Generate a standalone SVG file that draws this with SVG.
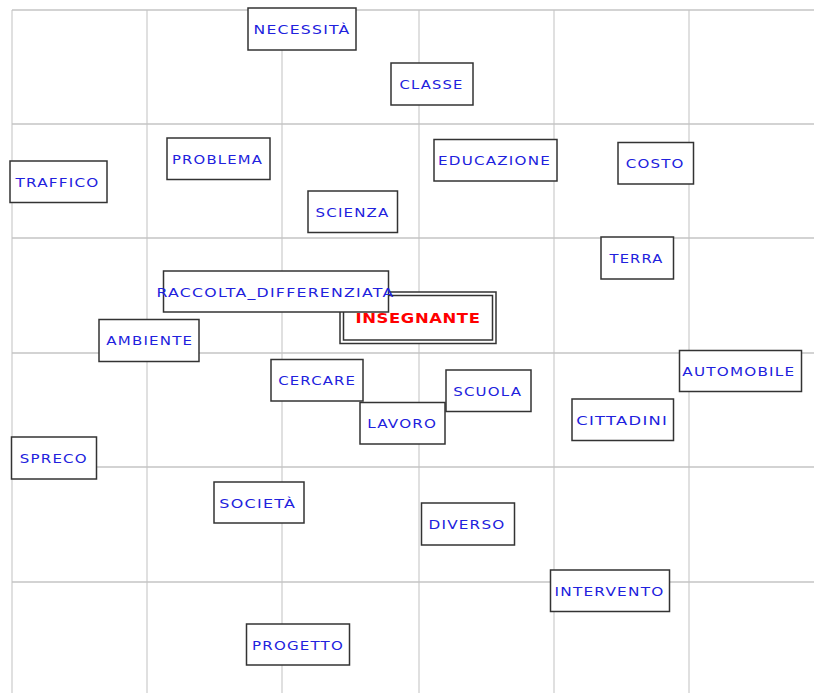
<svg xmlns="http://www.w3.org/2000/svg" width="814" height="693" viewBox="0 0 814 693">
<style>
.bg{fill:#ffffff}
.gh{stroke:#c4c4c4;stroke-width:1.5}
.gv{stroke:#d6d6d6;stroke-width:1.5}
.box{fill:#ffffff;stroke:#333333;stroke-width:1.5}
.lbl{font-family:"DejaVu Sans","Verdana",sans-serif;font-size:12.5px;letter-spacing:1px;fill:#2121dd;text-anchor:middle}
.main{font-family:"DejaVu Sans","Verdana",sans-serif;font-size:13.5px;letter-spacing:0.5px;font-weight:bold;fill:#ff0000;text-anchor:middle}
</style>
<rect class="bg" x="0" y="0" width="814" height="693"/>
<g id="grid">
<line class="gv" x1="12" y1="10" x2="12" y2="693"/>
<line class="gv" x1="147" y1="10" x2="147" y2="693"/>
<line class="gv" x1="282" y1="10" x2="282" y2="693"/>
<line class="gv" x1="419" y1="10" x2="419" y2="693"/>
<line class="gv" x1="554" y1="10" x2="554" y2="693"/>
<line class="gv" x1="689" y1="10" x2="689" y2="693"/>
<line class="gh" x1="12" y1="10" x2="814" y2="10"/>
<line class="gh" x1="12" y1="124" x2="814" y2="124"/>
<line class="gh" x1="12" y1="238" x2="814" y2="238"/>
<line class="gh" x1="12" y1="353" x2="814" y2="353"/>
<line class="gh" x1="12" y1="467" x2="814" y2="467"/>
<line class="gh" x1="12" y1="582" x2="814" y2="582"/>
</g>
<g id="connectors"></g>
<g id="n-necessita"><rect class="box" x="248" y="8" width="108" height="42"/><text class="lbl" x="302" y="33.5" textLength="97" lengthAdjust="spacingAndGlyphs">NECESSITÀ</text></g>
<g id="n-classe"><rect class="box" x="391" y="63" width="82" height="42"/><text class="lbl" x="431.5" y="88.5" textLength="64" lengthAdjust="spacingAndGlyphs">CLASSE</text></g>
<g id="n-problema"><rect class="box" x="167" y="138" width="103" height="41.5"/><text class="lbl" x="217.5" y="163.5" textLength="91" lengthAdjust="spacingAndGlyphs">PROBLEMA</text></g>
<g id="n-traffico"><rect class="box" x="10" y="161" width="97" height="41.5"/><text class="lbl" x="57.5" y="186.5" textLength="84" lengthAdjust="spacingAndGlyphs">TRAFFICO</text></g>
<g id="n-scienza"><rect class="box" x="308" y="191" width="89.5" height="41.5"/><text class="lbl" x="352.5" y="216.5" textLength="74" lengthAdjust="spacingAndGlyphs">SCIENZA</text></g>
<g id="n-educazione"><rect class="box" x="434" y="139.5" width="123" height="41.5"/><text class="lbl" x="494.5" y="165" textLength="113" lengthAdjust="spacingAndGlyphs">EDUCAZIONE</text></g>
<g id="n-costo"><rect class="box" x="618" y="142.5" width="75.5" height="41.5"/><text class="lbl" x="655.2" y="168" textLength="59" lengthAdjust="spacingAndGlyphs">COSTO</text></g>
<g id="n-terra"><rect class="box" x="601" y="237" width="72.5" height="42"/><text class="lbl" x="636.5" y="262.5" textLength="54" lengthAdjust="spacingAndGlyphs">TERRA</text></g>
<g id="n-insegnante"><rect class="box" x="340" y="292" width="156" height="51.5"/><rect class="box" x="343.5" y="295.5" width="149" height="44.5"/><text class="main" x="418" y="323" textLength="125" lengthAdjust="spacingAndGlyphs">INSEGNANTE</text></g>
<g id="n-raccolta"><rect class="box" x="163.5" y="271" width="225" height="41"/><text class="lbl" x="275.5" y="296.5" textLength="238" lengthAdjust="spacingAndGlyphs">RACCOLTA_DIFFERENZIATA</text></g>
<g id="n-ambiente"><rect class="box" x="99" y="319.5" width="100" height="42"/><text class="lbl" x="149.8" y="345" textLength="87" lengthAdjust="spacingAndGlyphs">AMBIENTE</text></g>
<g id="n-cercare"><rect class="box" x="271" y="359.5" width="92" height="41.5"/><text class="lbl" x="317.2" y="385" textLength="78" lengthAdjust="spacingAndGlyphs">CERCARE</text></g>
<g id="n-lavoro"><rect class="box" x="360" y="402.5" width="85" height="41.5"/><text class="lbl" x="402.2" y="428" textLength="70" lengthAdjust="spacingAndGlyphs">LAVORO</text></g>
<g id="n-scuola"><rect class="box" x="446" y="370" width="85" height="41.5"/><text class="lbl" x="487.7" y="395.5" textLength="69" lengthAdjust="spacingAndGlyphs">SCUOLA</text></g>
<g id="n-cittadini"><rect class="box" x="572" y="399" width="101.5" height="41.5"/><text class="lbl" x="622.2" y="424.5" textLength="92" lengthAdjust="spacingAndGlyphs">CITTADINI</text></g>
<g id="n-automobile"><rect class="box" x="679.5" y="350.5" width="122" height="41"/><text class="lbl" x="738.8" y="376" textLength="113" lengthAdjust="spacingAndGlyphs">AUTOMOBILE</text></g>
<g id="n-spreco"><rect class="box" x="11.5" y="437" width="85" height="42"/><text class="lbl" x="53.8" y="462.5" textLength="68" lengthAdjust="spacingAndGlyphs">SPRECO</text></g>
<g id="n-societa"><rect class="box" x="214" y="482" width="90" height="41"/><text class="lbl" x="257.8" y="507.5" textLength="77" lengthAdjust="spacingAndGlyphs">SOCIETÀ</text></g>
<g id="n-diverso"><rect class="box" x="421.5" y="503" width="93" height="42"/><text class="lbl" x="467" y="528.5" textLength="77" lengthAdjust="spacingAndGlyphs">DIVERSO</text></g>
<g id="n-intervento"><rect class="box" x="550.5" y="570" width="119" height="41.5"/><text class="lbl" x="609.5" y="595.5" textLength="110" lengthAdjust="spacingAndGlyphs">INTERVENTO</text></g>
<g id="n-progetto"><rect class="box" x="246.5" y="624" width="103" height="41"/><text class="lbl" x="298" y="649.5" textLength="92" lengthAdjust="spacingAndGlyphs">PROGETTO</text></g>
</svg>
